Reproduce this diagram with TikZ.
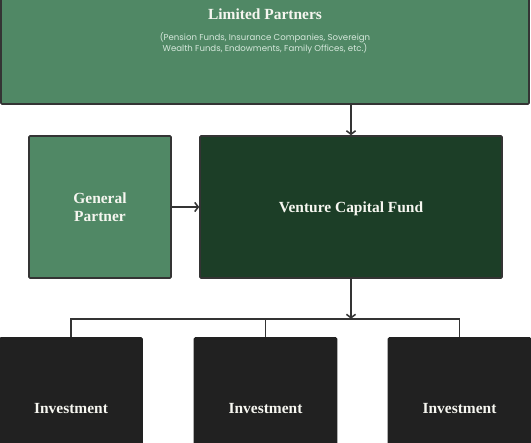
\documentclass[tikz,border=0pt]{standalone}
\usepackage{fontspec}
\setmainfont{Liberation Serif}
\newfontfamily\subfont{Poppins}
\usetikzlibrary{arrows.meta, positioning}
\definecolor{lpgreen}{RGB}{80,136,101}
\definecolor{vcfgreen}{RGB}{28,62,39}
\definecolor{invdark}{RGB}{33,33,33}
\definecolor{edgegray}{RGB}{52,52,52}
\definecolor{subtext}{RGB}{214,232,220}
\definecolor{boxtext}{RGB}{246,246,240}
\tikzset{
  box/.style={rectangle, draw=edgegray, line width=2.2pt,
    rounded corners=1.5pt, inner sep=0pt},
  lpbox/.style={box, fill=lpgreen, minimum width=264mm, minimum height=57mm},
  gpbox/.style={box, fill=lpgreen, minimum width=71mm, minimum height=71mm},
  vcfbox/.style={box, fill=vcfgreen, minimum width=151mm, minimum height=71mm},
  invbox/.style={box, draw=invdark, fill=invdark, minimum width=71mm, minimum height=71mm},
  label/.style={text=boxtext, font=\fontsize{22}{25}\selectfont\bfseries, align=center},
  sublabel/.style={text=subtext, font=\subfont\fontsize{12.2}{14.5}\selectfont, align=center},
  arrow/.style={-{Straight Barb[length=5pt, width=13pt, line width=2.2pt]}, line width=2.2pt, color=edgegray},
  line/.style={line width=2.2pt, color=edgegray}
}

\begin{document}
\begin{tikzpicture}[x=0.5mm, y=-0.5mm]
  \useasboundingbox (0,0) rectangle (531,442);
  \clip (0,0) rectangle (531,442);

  % Limited partners on top
  \node[lpbox] (lp) at (265,47) {};
  \node[label] (lptitle) at (265,14) {Limited Partners};
  \node[sublabel] (lpsub) at (265,43) {(Pension Funds, Insurance Companies, Sovereign\\Wealth Funds, Endowments, Family Offices, etc.)};

  % Middle row
  \node[gpbox] (gp) at (100,207) {};
  \node[label] at (gp.center) {General\\Partner};
  \node[vcfbox] (vcf) at (351,207) {};
  \node[label] at ([yshift=-1mm]vcf.center) {Venture Capital Fund};

  % Investments
  \node[invbox] (inv1) at (71,409) {};
  \node[invbox] (inv2) at (265.5,409) {};
  \node[invbox] (inv3) at (459.5,409) {};
  \foreach \i in {1,2,3}
    \node[label] at (inv\i.center) {Investment};

  % Connectors
  \draw[arrow] (vcf.north |- lp.south) -- (vcf.north);
  \draw[arrow] (gp.east) -- (vcf.west);
  \coordinate (fork) at ([yshift=-20mm]vcf.south);
  \draw[arrow] (vcf.south) -- (fork);
  \draw[line] (inv1.north) |- (fork) -| (inv3.north);
  \draw[line] (inv2.north) -- (inv2.north |- fork);
\end{tikzpicture}
\end{document}
